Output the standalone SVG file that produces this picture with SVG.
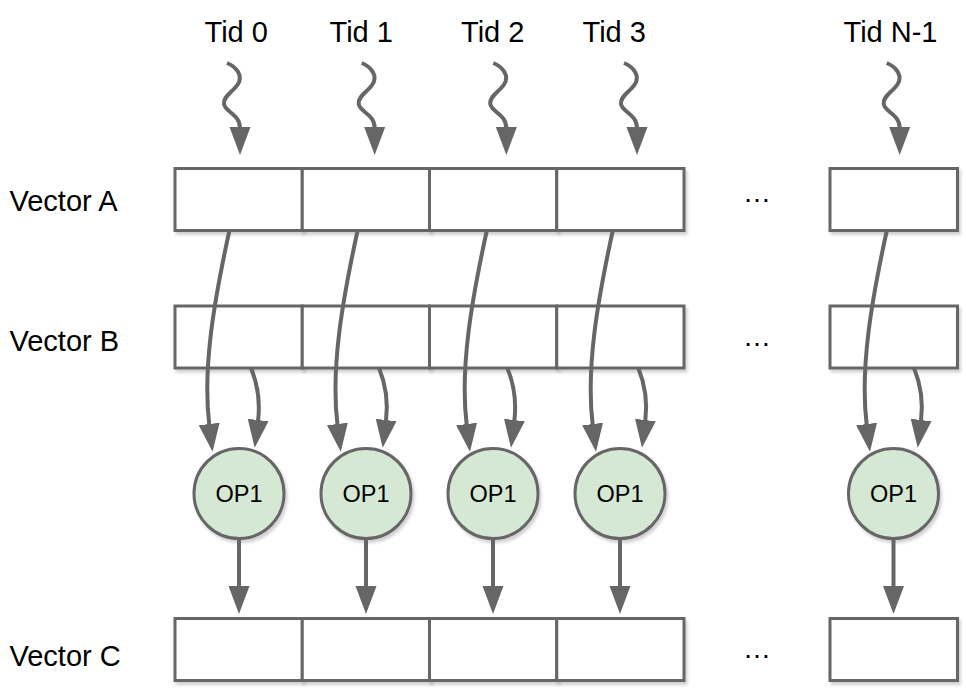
<svg xmlns="http://www.w3.org/2000/svg" width="966" height="693" viewBox="0 0 966 693">
<style>
.cell{fill:#ffffff;stroke:#666666;stroke-width:3;filter:url(#sh)}
.op{fill:#d5e8d4;stroke:#666666;stroke-width:3;filter:url(#sh)}
.lbl{font-family:"Liberation Sans",Arial,sans-serif;font-size:29px;fill:#000000}
.opt{font-family:"Liberation Sans",Arial,sans-serif;font-size:23.5px;fill:#000000;text-anchor:middle}
.dots{font-family:"Liberation Sans",Arial,sans-serif;font-size:28px;fill:#000000;text-anchor:middle}
.con{fill:none;stroke:#666666;stroke-width:4;marker-end:url(#ah)}
</style>
<defs>
<filter id="sh" x="-10%" y="-10%" width="130%" height="140%">
<feDropShadow dx="2" dy="3" stdDeviation="1.5" flood-color="#000000" flood-opacity="0.18"/>
</filter>
<marker id="ah" markerUnits="userSpaceOnUse" markerWidth="29" markerHeight="24" viewBox="0 0 29 24" refX="1" refY="12" orient="auto">
<path d="M0,1.5 L28,12 L0,22.5 z" fill="#666666"/>
</marker>
</defs>
<rect width="966" height="693" fill="#ffffff"/>

<g id="tid-labels">
<text class="lbl" x="204.5" y="41.5">Tid 0</text>
<text class="lbl" x="329.5" y="41.5">Tid 1</text>
<text class="lbl" x="461" y="41.5">Tid 2</text>
<text class="lbl" x="582.5" y="41.5">Tid 3</text>
<text class="lbl" x="843.5" y="41.5">Tid N-1</text>
</g>

<g id="row-labels">
<text class="lbl" x="9.5" y="211">Vector A</text>
<text class="lbl" x="9.5" y="351">Vector B</text>
<text class="lbl" x="9.5" y="665.5">Vector C</text>
</g>

<g id="vector-a">
<rect class="cell" x="175" y="168.5" width="127.25" height="62"/>
<rect class="cell" x="302.25" y="168.5" width="127.25" height="62"/>
<rect class="cell" x="429.5" y="168.5" width="127.25" height="62"/>
<rect class="cell" x="556.75" y="168.5" width="127.25" height="62"/>
<text class="dots" x="757" y="201.5">…</text>
<rect class="cell" x="830" y="168.5" width="127.5" height="62"/>
</g>

<g id="vector-b">
<rect class="cell" x="175" y="306" width="127.25" height="62"/>
<rect class="cell" x="302.25" y="306" width="127.25" height="62"/>
<rect class="cell" x="429.5" y="306" width="127.25" height="62"/>
<rect class="cell" x="556.75" y="306" width="127.25" height="62"/>
<text class="dots" x="757" y="346">…</text>
<rect class="cell" x="830" y="306" width="127.5" height="62"/>
</g>

<g id="vector-c">
<rect class="cell" x="175" y="618.5" width="127.25" height="62"/>
<rect class="cell" x="302.25" y="618.5" width="127.25" height="62"/>
<rect class="cell" x="429.5" y="618.5" width="127.25" height="62"/>
<rect class="cell" x="556.75" y="618.5" width="127.25" height="62"/>
<text class="dots" x="757" y="658">…</text>
<rect class="cell" x="830" y="618.5" width="127.5" height="62"/>
</g>

<g id="op-0"><circle class="op" cx="239" cy="493.5" r="45"/><text class="opt" x="239" y="502">OP1</text></g>
<g id="op-1"><circle class="op" cx="366" cy="493.5" r="45"/><text class="opt" x="366" y="502">OP1</text></g>
<g id="op-2"><circle class="op" cx="493" cy="493.5" r="45"/><text class="opt" x="493" y="502">OP1</text></g>
<g id="op-3"><circle class="op" cx="620" cy="493.5" r="45"/><text class="opt" x="620" y="502">OP1</text></g>
<g id="op-n"><circle class="op" cx="893.5" cy="493.5" r="45"/><text class="opt" x="893.5" y="502">OP1</text></g>

<g id="connectors">
<path class="con" d="M227,63 C237,67 243,76 238,84 C233,92 223,96 224,104 C225,112 240,114 240,128"/>
<path class="con" d="M361.7,63 C371.7,67 377.7,76 372.7,84 C367.7,92 357.7,96 358.7,104 C359.7,112 374.7,114 374.7,128"/>
<path class="con" d="M493.3,63 C503.3,67 509.3,76 504.3,84 C499.3,92 489.3,96 490.3,104 C491.3,112 506.3,114 506.3,128"/>
<path class="con" d="M624,63 C634,67 640,76 635,84 C630,92 620,96 621,104 C622,112 637,114 637,128"/>
<path class="con" d="M886.7,63 C896.7,67 902.7,76 897.7,84 C892.7,92 882.7,96 883.7,104 C884.7,112 899.7,114 899.7,128"/>
<path class="con" d="M229.3,231 C214.3,300 202.3,368 209.3,425"/>
<path class="con" d="M357.5,231 C342.5,300 330.5,368 337.5,425"/>
<path class="con" d="M486.7,231 C471.7,300 459.7,368 466.7,425"/>
<path class="con" d="M612.7,231 C597.7,300 585.7,368 592.7,425"/>
<path class="con" d="M886.7,231 C871.7,300 859.7,368 866.7,425"/>
<path class="con" d="M251,368 C258,385 260,405 258,421"/>
<path class="con" d="M379,368 C386,385 388,405 386,421"/>
<path class="con" d="M507.3,368 C514.3,385 516.3,405 514.3,421"/>
<path class="con" d="M638.3,368 C645.3,385 647.3,405 645.3,421"/>
<path class="con" d="M914,368 C921,385 923,405 921,421"/>
<path class="con" d="M239,539 L239,587"/>
<path class="con" d="M366,539 L366,587"/>
<path class="con" d="M493,539 L493,587"/>
<path class="con" d="M620,539 L620,587"/>
<path class="con" d="M893.5,539 L893.5,587"/>
</g>
</svg>
